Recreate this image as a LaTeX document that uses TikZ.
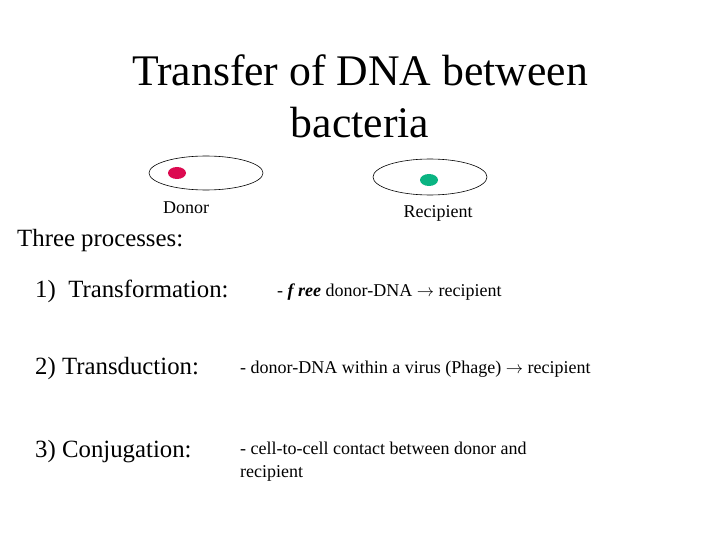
\documentclass[tikz,border=0pt]{standalone}
\usepackage{fontspec}
\setmainfont{Liberation Serif}
\begin{document}
\begin{tikzpicture}[x=1pt,y=-1pt,
  lbl/.style={anchor=west,inner sep=0pt,font=\fontsize{18}{21}\selectfont},
  big/.style={anchor=west,inner sep=0pt,font=\fontsize{24.8}{28}\selectfont},
  cell/.style={draw=black,line width=0.6pt}]
\useasboundingbox (0,0) rectangle (720,540);
\node[align=center,font=\fontsize{43.7}{52}\selectfont] (title) at (360,96) {Transfer of DNA between\\bacteria};
\draw[cell] (206,173) ellipse [x radius=57,y radius=17];
\fill[fill={rgb,255:red,220;green,10;blue,80}] (177,173) ellipse [x radius=9,y radius=6];
\draw[cell] (430,177) ellipse [x radius=57,y radius=18];
\fill[fill={rgb,255:red,10;green,180;blue,130}] (429,180) ellipse [x radius=9,y radius=6];
\node[font=\fontsize{18}{21}\selectfont] (donor) at (186,208) {Donor};
\node[font=\fontsize{18}{21}\selectfont] (recip) at (438,213) {Recipient};
\node[big] (three) at (17,241) {Three processes:};
\node[big] (t1) at (35,291) {1)\ \ Transformation:};
\node[lbl] (d1) at (277,292) {- \textbf{\textit{f ree}} donor-DNA $\rightarrow$ recipient};
\node[big] (t2) at (35,369) {2) Transduction:};
\node[lbl] (d2) at (240,369) {- donor-DNA within a virus (Phage) $\rightarrow$ recipient};
\node[big] (t3) at (35,452) {3) Conjugation:};
\node[lbl,align=left,anchor=north west,font=\fontsize{18}{23}\selectfont] (d3) at (240,442) {- cell-to-cell contact between donor and\\recipient};
\end{tikzpicture}
\end{document}
